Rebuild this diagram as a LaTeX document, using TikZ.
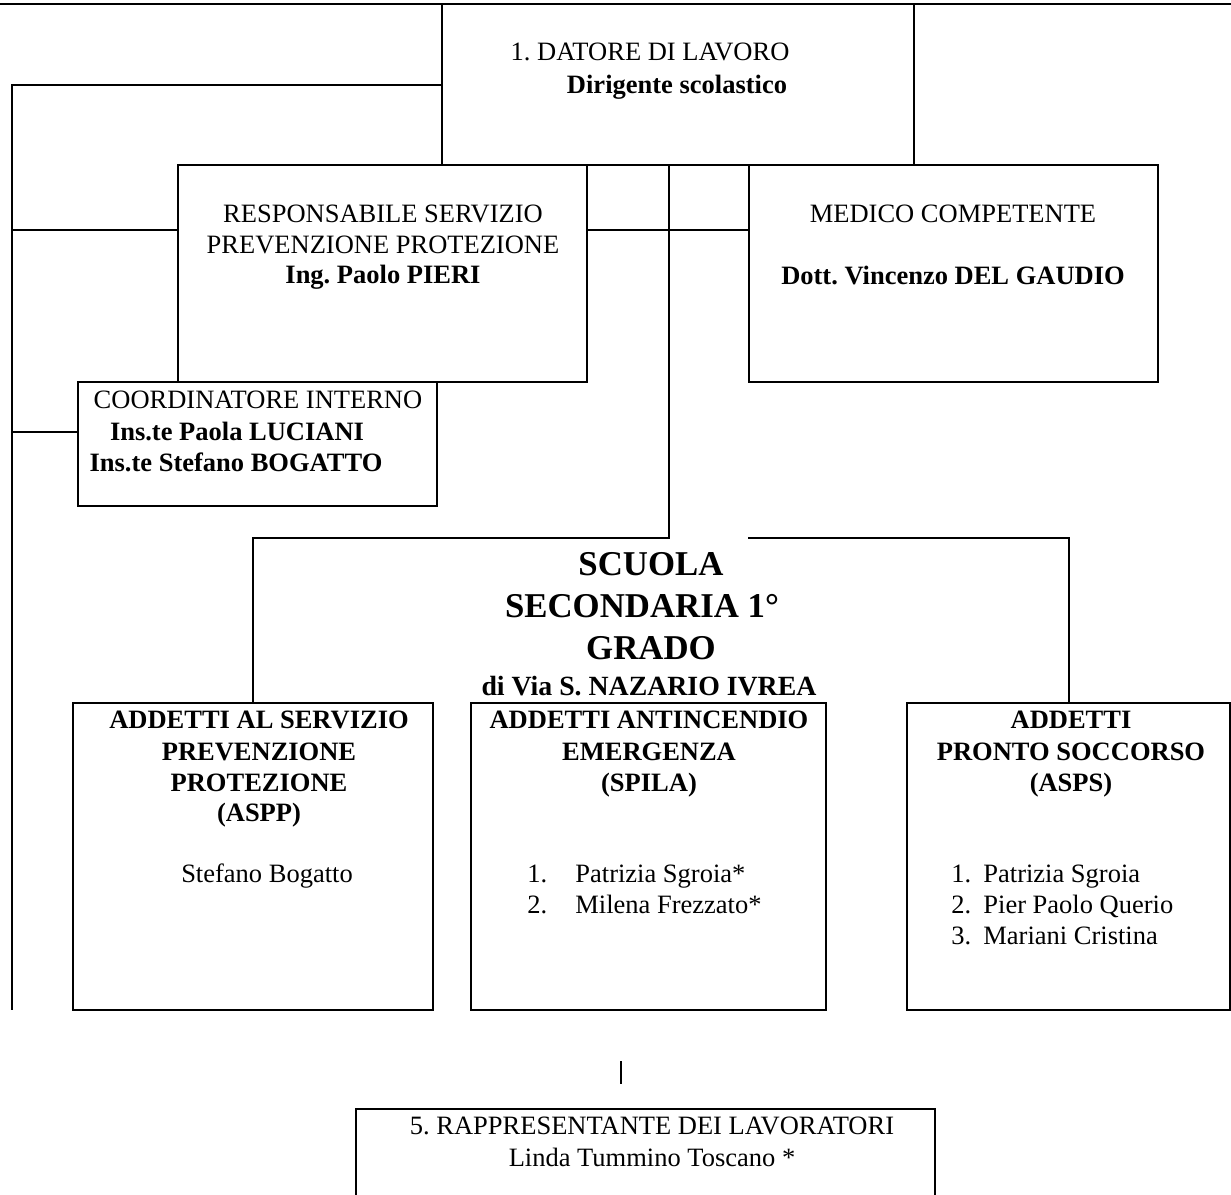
\documentclass[tikz,border=0pt]{standalone}
\usepackage{fontspec}
\setmainfont{Liberation Serif}
\frenchspacing
\begin{document}
\begin{tikzpicture}[x=0.5pt,y=-0.5pt,
  box/.style={draw, line width=1pt, anchor=north west, inner sep=0pt, outer sep=0pt},
  link/.style={line width=1pt},
  txt/.style={font=\fontsize{13.25}{15.5}\selectfont, inner sep=0pt, anchor=base},
  txtb/.style={font=\fontsize{13.25}{15.5}\selectfont\bfseries, inner sep=0pt, anchor=base},
  big/.style={font=\fontsize{17.4}{21}\selectfont\bfseries, inner sep=0pt, anchor=base}]
  \useasboundingbox (0,0) rectangle (1231,1194);
  \clip (0,0) rectangle (1231,1194);
  % boxes
  \node[box, minimum width=236pt,   minimum height=80.5pt]  (datore) at (442,4)   {};
  \node[box, minimum width=204.5pt, minimum height=108.5pt] (rspp)   at (178,165) {};
  \node[box, minimum width=204.5pt, minimum height=108.5pt] (medico) at (749,165) {};
  \node[box, minimum width=179.5pt, minimum height=62pt]    (coord)  at (78,382)  {};
  \node[box, minimum width=180pt,   minimum height=153.5pt] (aspp)   at (73,703)  {};
  \node[box, minimum width=177.5pt, minimum height=153.5pt] (spila)  at (471,703) {};
  \node[box, minimum width=161.5pt, minimum height=153.5pt] (asps)   at (907,703) {};
  \node[box, minimum width=289.5pt, minimum height=60pt]    (rls)    at (356,1109) {};
  % top rule
  \draw[link] (0,4) -- (1231,4);
  % left spine
  \coordinate (sBot) at (12,1010);
  \coordinate (jR) at (12,230);
  \coordinate (jC) at (12,432);
  \draw[link] (datore.west) -- (datore.west -| sBot) -- (sBot);
  \draw[link] (jR) -- (jR -| rspp.west);
  \draw[link] (jC) -- (jC -| coord.west);
  \draw[link] (jR -| rspp.east) -- (jR -| medico.west);
  % school branch
  \coordinate (sc) at (669,538);
  \coordinate (scR) at (748,538);
  \draw[link] (datore.south -| sc) -- (sc) -| (aspp.north);
  \draw[link] (scR) -| (asps.north);
  \coordinate (tA) at (621,1061);
  \coordinate (tB) at (621,1084);
  \draw[link] (tA) -- (tB);
  % texts (y = baseline)
  \node[txt]  (datT) at (650,61) {1. DATORE DI LAVORO};
  \node[txtb] (datN) at (677,93) {Dirigente scolastico};
  \node[txt]  (rsT1) at (383,222) {RESPONSABILE SERVIZIO};
  \node[txt]  (rsT2) at (383,253) {PREVENZIONE PROTEZIONE};
  \node[txtb] (rsN)  at (383,283) {Ing. Paolo PIERI};
  \node[txt]  (meT)  at (953,222) {MEDICO COMPETENTE};
  \node[txtb] (meN)  at (953,284) {Dott. Vincenzo DEL GAUDIO};
  \node[txt]  (coT)  at (258,408) {COORDINATORE INTERNO};
  \node[txtb] (coN1) at (237,440) {Ins.te Paola LUCIANI};
  \node[txtb] (coN2) at (236,471) {Ins.te Stefano BOGATTO};
  \node[big]  (scT1) at (651,575) {SCUOLA};
  \node[big]  (scT2) at (642,617) {SECONDARIA 1°};
  \node[big]  (scT3) at (651,659) {GRADO};
  \node[txtb, font=\fontsize{13.9}{16}\selectfont\bfseries] (scT4) at (649,695) {di Via S. NAZARIO IVREA};
  \node[txtb] (apT1) at (259,728) {ADDETTI AL SERVIZIO};
  \node[txtb] (apT2) at (259,760) {PREVENZIONE};
  \node[txtb] (apT3) at (259,791) {PROTEZIONE};
  \node[txtb] (apT4) at (259,821) {(ASPP)};
  \node[txt]  (apN)  at (267,882) {Stefano Bogatto};
  \node[txtb] (spT1) at (649,728) {ADDETTI ANTINCENDIO};
  \node[txtb] (spT2) at (649,760) {EMERGENZA};
  \node[txtb] (spT3) at (649,791) {(SPILA)};
  \node[txt, anchor=base west] (spK1) at (527,882) {1.};
  \node[txt, anchor=base west] (spN1) at (575,882) {Patrizia Sgroia*};
  \node[txt, anchor=base west] (spK2) at (527,913) {2.};
  \node[txt, anchor=base west] (spN2) at (575,913) {Milena Frezzato*};
  \node[txtb] (psT1) at (1071,728) {ADDETTI};
  \node[txtb] (psT2) at (1071,760) {PRONTO SOCCORSO};
  \node[txtb] (psT3) at (1071,791) {(ASPS)};
  \node[txt, anchor=base west] (psK1) at (951,882) {1.};
  \node[txt, anchor=base west] (psN1) at (983,882) {Patrizia Sgroia};
  \node[txt, anchor=base west] (psK2) at (951,913) {2.};
  \node[txt, anchor=base west] (psN2) at (983,913) {Pier Paolo Querio};
  \node[txt, anchor=base west] (psK3) at (951,944) {3.};
  \node[txt, anchor=base west] (psN3) at (983,944) {Mariani Cristina};
  \node[txt]  (rlT)  at (652,1134) {5. RAPPRESENTANTE DEI LAVORATORI};
  \node[txt]  (rlN)  at (652,1166) {Linda Tummino Toscano *};
\end{tikzpicture}
\end{document}
